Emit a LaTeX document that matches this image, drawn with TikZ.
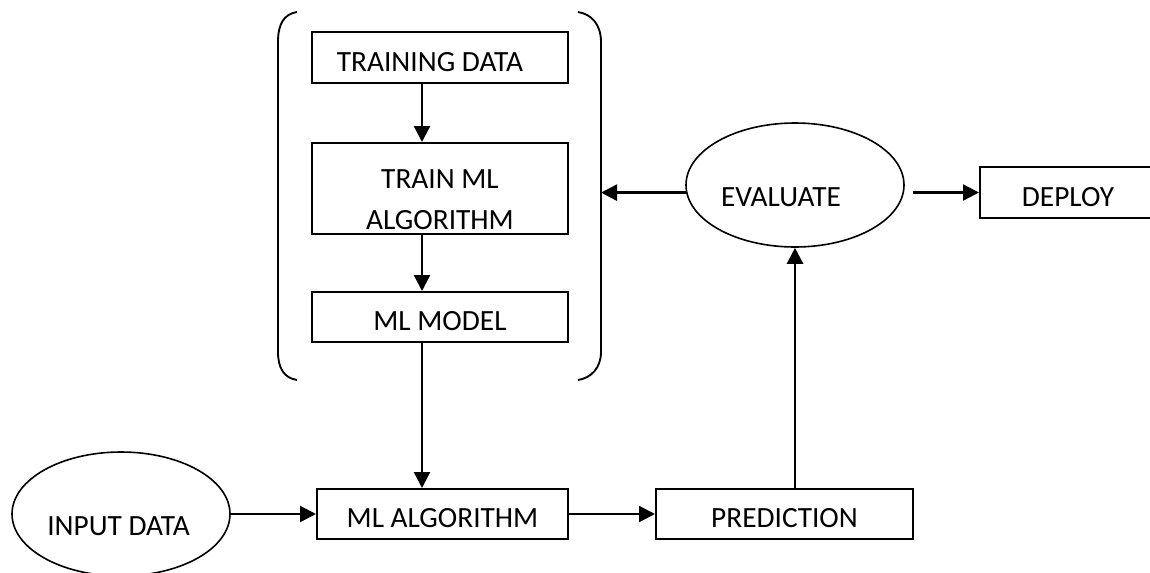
\documentclass[tikz,border=0pt]{standalone}
\usepackage{fontspec}
\setmainfont{Carlito}
\usetikzlibrary{arrows.meta,shapes.geometric}

\begin{document}
\begin{tikzpicture}[x=0.75pt,y=-0.75pt,
  every node/.style={font=\fontsize{22pt}{30.75pt}\selectfont, inner sep=0pt},
  box/.style={draw, line width=1.5pt, rectangle, minimum height=37.5pt,
              text height=20.25pt, text depth=0pt},
  oval/.style={draw, line width=1.2pt, ellipse},
  arr/.style={line width=1.8pt, -{Triangle[length=12pt,width=12pt]}},
  brace/.style={line width=1.4pt}]
\useasboundingbox (0,0) rectangle (1150,572);

% training stage
\node[box, minimum width=192pt, minimum height=38.25pt] (td) at (440,57.5) {\hspace*{-15pt}TRAINING DATA};
\node[box, minimum width=192pt, minimum height=68.25pt, text height=-8.25pt]
  (tml) at (440,188.5) {\begin{tabular}[t]{@{}c@{}}TRAIN ML\\ALGORITHM\end{tabular}};
\node[box, minimum width=192pt] (mlm) at (440,317) {ML MODEL};

% round bracket grouping the training stage
\draw[brace] (297,12) .. controls (284,14) and (278,24) .. (278,42) -- (278,352)
  .. controls (278,368) and (284,378) .. (297,380);
\draw[brace] (578,12) .. controls (591,14) and (601,24) .. (601,42) -- (601,352)
  .. controls (601,368) and (591,378) .. (578,380);
\coordinate (bk) at (601,192);

% inference stage
\node[oval, minimum width=163.5pt, minimum height=93pt, text height=31.5pt, text depth=0pt]
  (inp) at (121,514) {\hspace*{-3.75pt}INPUT DATA};
\node[box, minimum width=188.25pt] (mla) at (442.5,514) {ML ALGORITHM};
\node[box, minimum width=192.75pt] (pred) at (784.5,514) {PREDICTION};
\node[oval, minimum width=163.5pt, minimum height=93pt, text height=31.5pt, text depth=0pt]
  (eval) at (795,185) {\hspace*{-21pt}EVALUATE};
\node[box, minimum width=132pt, minimum height=38.25pt] (dep) at (1068,192.5) {DEPLOY};

% connectors
\draw[arr] ([xshift=-13.5pt]td.south) -- ([xshift=-13.5pt]tml.north);
\draw[arr] ([xshift=-13.5pt]tml.south) -- ([xshift=-13.5pt]mlm.north);
\draw[arr] ([xshift=-13.5pt]mlm.south) -- ([xshift=-13.5pt]mlm.south |- mla.north);
\draw[arr] (inp.east) -- (inp.east -| mla.west);
\draw[arr] (mla.east) -- (pred.west);
\draw[arr] (eval.south |- pred.north) -- (eval.south);
\draw[arr] (eval.184) -- (eval.184 -| bk);
\draw[arr] ([xshift=6pt]eval.east |- dep.west) -- (dep.west);
\end{tikzpicture}
\end{document}
